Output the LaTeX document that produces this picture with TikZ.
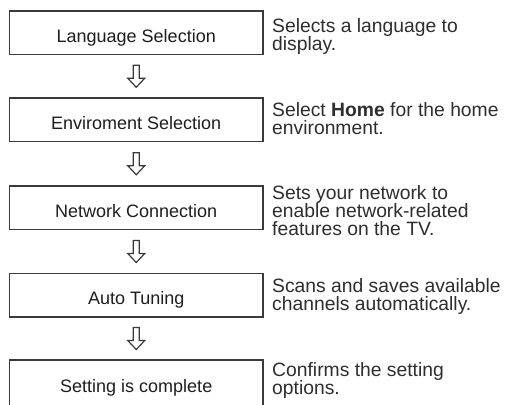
\documentclass[tikz,border=0pt]{standalone}
\usepackage{fontspec}
\setmainfont{Liberation Sans}
\usetikzlibrary{calc}
\definecolor{linec}{HTML}{3A3A3A}
\definecolor{labelc}{HTML}{1E1E1E}
\definecolor{descc}{HTML}{2E2E2E}
\setlength{\lineskiplimit}{-20pt}
\tikzset{
 stepbox/.style={draw=linec, line width=1.3pt, minimum width=253.5pt, minimum height=43.5pt, inner sep=0pt, text=labelc, font=\fontsize{18pt}{20pt}\selectfont, text height=19pt, text depth=0pt},
 desc/.style={anchor=north west, inner sep=0pt, align=left, text=descc, font=\fontsize{19.3pt}{18pt}\selectfont},
 hollow/.style={draw=linec, line width=1.2pt, fill=white, line join=miter},
}
\newcommand\dstrut{\rule{0pt}{15pt}}
\newcommand\dlarrow[1]{\draw[hollow] ([shift={(-3,-11)}]#1) -- ([shift={(3,-11)}]#1) -- ([shift={(3,2)}]#1) -- ([shift={(8.5,2)}]#1) -- ([shift={(0,11)}]#1) -- ([shift={(-8.5,2)}]#1) -- ([shift={(-3,2)}]#1) -- cycle;}
\begin{document}
\begin{tikzpicture}[x=1pt,y=-1pt]
\clip (0,0) rectangle (511,404);
\fill[white] (0,0) rectangle (511,404);
\node[stepbox] (b1) at (136.25,32.75) {Language Selection};
\node[stepbox] (b2) at (136.25,119.75) {Enviroment Selection};
\node[stepbox] (b3) at (136.25,207.75) {Network Connection};
\node[stepbox] (b4) at (136.25,295.25) {Auto Tuning};
\node[stepbox, minimum height=46pt] (b5) at (136.25,383) {Setting is complete};
\coordinate (m1) at ($(b1.south)!0.5!(b2.north)$);
\coordinate (m2) at ($(b2.south)!0.5!(b3.north)$);
\coordinate (m3) at ($(b3.south)!0.5!(b4.north)$);
\coordinate (m4) at ($(b4.south)!0.5!(b5.north)$);
\dlarrow{m1}
\dlarrow{m2}
\dlarrow{m3}
\dlarrow{m4}
\node[desc] (d1) at (272,17.3) {\dstrut Selects a language to\\display.};
\node[desc] (d2) at (272,101.7) {\dstrut Select \textbf{Home} for the home\\environment.};
\node[desc] (d3) at (272,184.3) {\dstrut Sets your network to\\enable network-related\\features on the TV.};
\node[desc] (d4) at (272,277.7) {\dstrut Scans and saves available\\channels automatically.};
\node[desc] (d5) at (272,361) {\dstrut Confirms the setting\\options.};
\end{tikzpicture}
\end{document}
